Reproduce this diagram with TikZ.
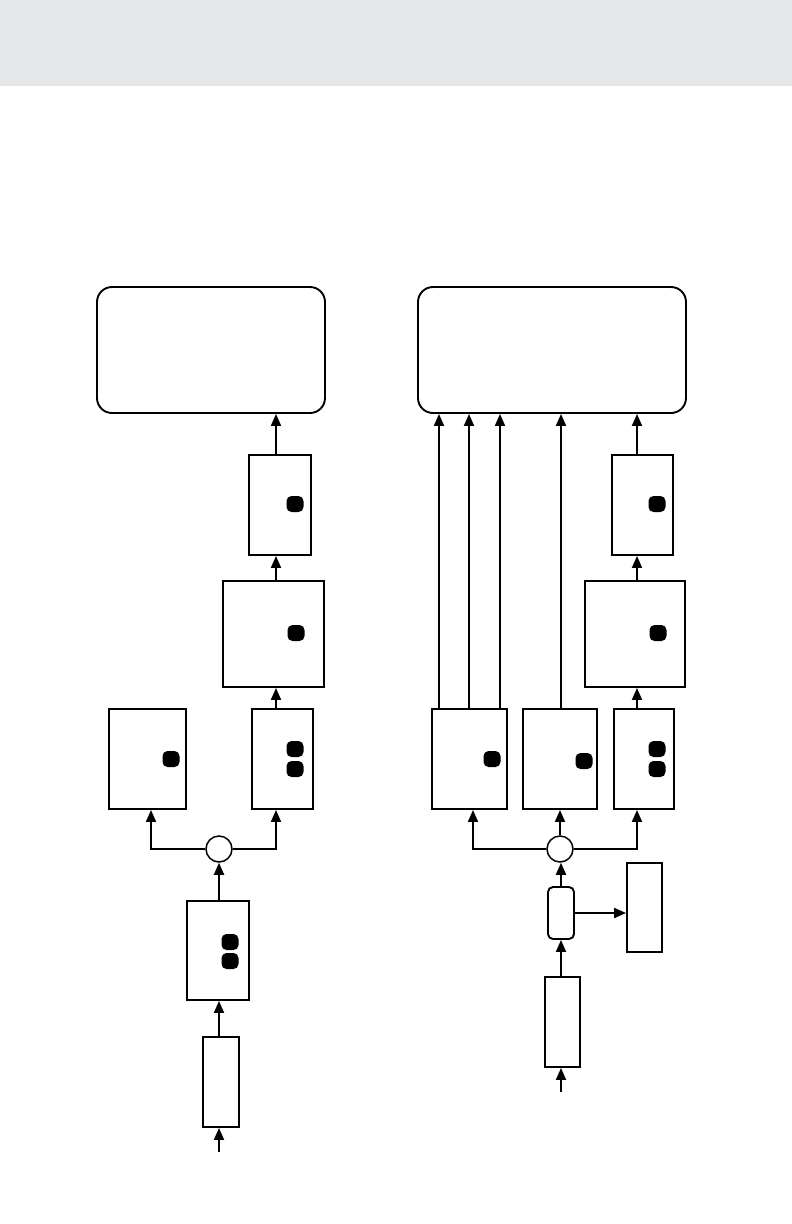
\documentclass[tikz,border=0pt]{standalone}
\usetikzlibrary{arrows.meta,calc}
\definecolor{headergray}{HTML}{E6E7E8}
\begin{document}
\begin{tikzpicture}[x=1pt,y=-1pt,
  lw/.style={line width=1.9pt},
  box/.style={draw,lw,rectangle,inner sep=0pt,fill=white},
  bigbox/.style={draw,lw,rectangle,rounded corners=15pt,inner sep=0pt,minimum width=#1,minimum height=126pt},
  smallround/.style={draw,lw,rectangle,rounded corners=5pt,inner sep=0pt},
  dot/.style={fill=black,rectangle,rounded corners=5pt,inner sep=0pt,minimum width=17pt,minimum height=16pt},
  junc/.style={draw,line width=1.5pt,circle,inner sep=0pt,minimum size=26pt,fill=white},
  arr/.style={lw,-{Triangle[length=12pt,width=10pt]}},
  ln/.style={lw}
]
\useasboundingbox (0,0) rectangle (792,1224);
\fill[headergray] (0,0) rectangle (792,86);

% ---------- left column ----------
\coordinate (colL) at (276,0);
\node[bigbox=228pt] (Lbig) at (211,350) {};
\node[box,minimum width=62pt,minimum height=100pt] (A) at (280,505) {};
\node[dot] (Ad) at (295,504) {};
\node[box,minimum width=101pt,minimum height=106pt] (B) at (273.5,634) {};
\node[dot] (Bd) at (296,633) {};
\node[box,minimum width=77pt,minimum height=100pt] (C) at (147.5,759) {};
\node[dot] (Cd) at (171,759) {};
\node[box,minimum width=61pt,minimum height=100pt] (D) at (282.5,759) {};
\node[dot] (Dd1) at (295,749) {};
\node[dot] (Dd2) at (295,769) {};
\node[junc] (J1) at (219,849) {};
\node[box,minimum width=62pt,minimum height=99pt] (E) at (218,950.5) {};
\node[dot] (Ed1) at (230,942) {};
\node[dot] (Ed2) at (230,961) {};
\node[box,minimum width=36pt,minimum height=90pt] (F) at (221,1082) {};
\coordinate (in1) at (219,1152);

\draw[arr] (A.north -| colL) -- (Lbig.south -| colL);
\draw[arr] (B.north -| colL) -- (A.south -| colL);
\draw[arr] (D.north -| colL) -- (B.south -| colL);
\draw[arr] (J1.west) -| ([xshift=3.5pt]C.south);
\draw[arr] (J1.east) -| (D.south -| colL);
\draw[arr] (E.north -| J1) -- (J1.south);
\draw[arr] (F.north -| J1) -- (E.south -| J1);
\draw[arr] (in1) -- (F.south -| in1);

% ---------- right column ----------
\coordinate (colR) at (637,0);
\node[bigbox=268pt] (Rbig) at (552,350) {};
\node[box,minimum width=61pt,minimum height=100pt] (G) at (642.5,505) {};
\node[dot] (Gd) at (657,504) {};
\node[box,minimum width=100pt,minimum height=106pt] (H) at (635,634) {};
\node[dot] (Hd) at (658,633) {};
\node[box,minimum width=75pt,minimum height=100pt] (I) at (469.5,759) {};
\node[dot] (Id) at (492,759) {};
\node[box,minimum width=74pt,minimum height=100pt] (Jb) at (560,759) {};
\node[dot] (Jd) at (584,761) {};
\node[box,minimum width=60pt,minimum height=100pt] (K) at (644,759) {};
\node[dot] (Kd1) at (657,749) {};
\node[dot] (Kd2) at (657,769) {};
\node[junc] (J2) at (560,849) {};
\node[smallround,minimum width=26pt,minimum height=52pt] (L) at (561,913) {};
\node[box,minimum width=35pt,minimum height=89pt] (M) at (644.5,907.5) {};
\node[box,minimum width=35pt,minimum height=90pt] (N) at (562.5,1022) {};
\coordinate (in2) at (561,1092);

\draw[arr] ([xshift=-30.5pt]I.north) -- ([xshift=-30.5pt]I.north |- Rbig.south);
\draw[arr] ([xshift=-0.5pt]I.north) -- ([xshift=-0.5pt]I.north |- Rbig.south);
\draw[arr] ([xshift=30.5pt]I.north) -- ([xshift=30.5pt]I.north |- Rbig.south);
\draw[arr] ([xshift=1pt]Jb.north) -- ([xshift=1pt]Jb.north |- Rbig.south);
\draw[arr] (G.north -| colR) -- (Rbig.south -| colR);
\draw[arr] (H.north -| colR) -- (G.south -| colR);
\draw[arr] (K.north -| colR) -- (H.south -| colR);
\draw[arr] (J2.west) -| ([xshift=3.5pt]I.south);
\draw[arr] (J2.east) -| (K.south -| colR);
\draw[arr] (J2.north) -- (Jb.south);
\draw[arr] (L.north -| in2) -- (J2.south -| in2);
\draw[arr] (L.east) -- (M.west |- L.east);
\draw[arr] (N.north -| in2) -- (L.south -| in2);
\draw[arr] (in2) -- (N.south -| in2);
\end{tikzpicture}
\end{document}
